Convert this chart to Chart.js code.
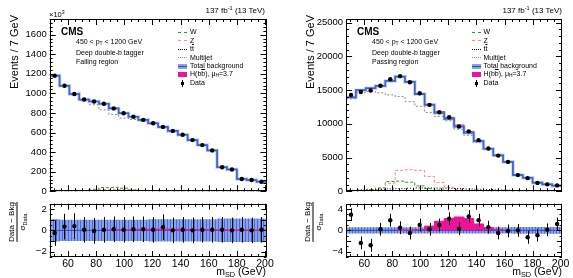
<!DOCTYPE html>
<html>
<head>
<meta charset="utf-8">
<script src="https://cdn.jsdelivr.net/npm/chart.js@4"></script>
<style>
body { margin: 0; width: 573px; height: 278px; overflow: hidden; position: relative; background: #fff; font-family: "Liberation Sans", Arial, sans-serif; color: #000; }
canvas { position: absolute; }
.t { position: absolute; white-space: nowrap; line-height: 1; }
.sup { font-size: 70%; position: relative; top: -0.45em; }
.sub { font-size: 70%; position: relative; top: 0.3em; }
.ol { text-decoration: overline; }
.cms { font-weight: bold; font-size: 10px; }
.info { font-size: 7px; }
.leg { position: absolute; font-size: 7px; line-height: 8.5px; }
.row { height: 8.5px; display: flex; align-items: center; white-space: nowrap; }
.sym { display: inline-block; width: 9px; margin-right: 3px; flex: none; }
.ytitle { position: absolute; width: 100px; text-align: right; font-size: 11px; line-height: 1; white-space: nowrap; transform-origin: 0 0; transform: rotate(-90deg); }
.rtitle { position: absolute; font-size: 8px; line-height: 1; display: flex; flex-direction: column; align-items: center; transform: translate(-50%, -50%) rotate(-90deg); white-space: nowrap; }
.rtitle .bar { width: 100%; border-top: 1px solid #000; margin: 1px 0; }
</style>
</head>
<body>
<canvas id="failMain" width="287" height="200" style="left:0;top:0"></canvas>
<canvas id="failRatio" width="287" height="83" style="left:0;top:195px"></canvas>
<canvas id="passMain" width="286" height="200" style="left:287px;top:0"></canvas>
<canvas id="passRatio" width="286" height="83" style="left:287px;top:195px"></canvas>

<!-- failing region texts -->
<div class="t" style="left:49px;top:10.5px;font-size:7.5px">×10<span class="sup">3</span></div>
<div class="t" style="right:308px;top:7px;font-size:8px">137 fb<span class="sup">-1</span> (13 TeV)</div>
<div class="t cms" style="left:61px;top:26.5px">CMS</div>
<div class="t info" style="left:76px;top:38px">450 &lt; p<span class="sub">T</span> &lt; 1200 GeV</div>
<div class="t info" style="left:76px;top:48.5px">Deep double-b tagger</div>
<div class="t info" style="left:76px;top:58px">Failing region</div>
<div class="ytitle" style="left:9.3px;top:115px">Events / 7 GeV</div>
<div class="rtitle" style="left:17px;top:222px"><span>Data − Bkg</span><span class="bar"></span><span>σ<span class="sub">Data</span></span></div>
<div class="t" style="right:307px;top:266px;font-size:10.5px">m<span class="sub">SD</span> (GeV)</div>

<!-- passing region texts -->
<div class="t" style="right:11px;top:7px;font-size:8px">137 fb<span class="sup">-1</span> (13 TeV)</div>
<div class="t cms" style="left:357px;top:26.5px">CMS</div>
<div class="t info" style="left:372px;top:38px">450 &lt; p<span class="sub">T</span> &lt; 1200 GeV</div>
<div class="t info" style="left:372px;top:48.5px">Deep double-b tagger</div>
<div class="t info" style="left:372px;top:58px">Passing region</div>
<div class="ytitle" style="left:305.3px;top:115px">Events / 7 GeV</div>
<div class="rtitle" style="left:313px;top:222px"><span>Data − Bkg</span><span class="bar"></span><span>σ<span class="sub">Data</span></span></div>
<div class="t" style="right:11px;top:266px;font-size:10.5px">m<span class="sub">SD</span> (GeV)</div>

<div id="legFail" class="leg" style="left:178px;top:28px"></div>
<div id="legPass" class="leg" style="left:471.5px;top:28px"></div>

<script>
// binning (GeV)
const binEdges = [47, 54, 61, 68, 75, 82, 89, 96, 103, 110, 117, 124, 131, 138, 145, 152, 159, 166, 173, 180, 187, 194, 201];
const binCenters = [50.5, 57.5, 64.5, 71.5, 78.5, 85.5, 92.5, 99.5, 106.5, 113.5, 120.5, 127.5, 134.5, 141.5, 148.5, 155.5, 162.5, 169.5, 176.5, 183.5, 190.5, 197.5];
const xTicks = [60, 80, 100, 120, 140, 160, 180, 200];

// failing region, events x10^3
const failTicks = [0, 200, 400, 600, 800, 1000, 1200, 1400, 1600];
const failTotal = [1182, 1078, 994, 937, 918, 894, 847, 798, 762, 730, 695, 658, 617, 577, 523, 472, 418, 246, 223, 125, 115, 98];
const failMultijet = [1179, 1073, 987, 924, 884, 832, 785, 748, 733, 715, 687, 653, 612, 572, 519, 468, 414, 243, 220, 122, 113, 96];
const failW = [1, 2, 3, 6, 20, 38, 40, 32, 14, 6, 3, 2, 1, 1, 0.5, 0.5, 0.5, 0.3, 0.3, 0.2, 0.2, 0.1];
const failZ = [0.5, 1, 2, 4, 10, 18, 20, 18, 12, 6, 3, 2, 1, 1, 0.5, 0.5, 0.3, 0.2, 0.2, 0.1, 0.1, 0.1];
const failTT = [2, 2, 3, 3, 4, 4, 5, 5, 5, 5, 5, 4, 4, 4, 3, 3, 3, 2, 2, 2, 1, 1];
const failHiggs = [0, 0, 0, 0, 0, 0, 0, 0.1, 0.2, 0.3, 0.4, 0.4, 0.3, 0.2, 0.1, 0.1, 0, 0, 0, 0, 0, 0];
const failData = [1181, 1078, 994, 937, 918, 894, 847, 798, 762, 730, 695, 658, 617, 577, 523, 472, 418, 246, 223, 125, 115, 98];
const failRatioTicks = [-2, -1, 0, 1, 2];
const failPull = [-0.25, 0.35, 0.4, 0.05, -0.05, 0.05, 0.1, 0.05, 0.1, 0.1, 0.05, 0.3, 0.0, 0.05, 0.0, 0.05, 0.05, 0.05, 0.0, 0.05, 0.0, 0.05];
const failPullErr = [1.2, 1.2, 1.2, 1.2, 1.2, 1.2, 1.2, 1.2, 1.2, 1.2, 1.2, 1.2, 1.2, 1.2, 1.2, 1.2, 1.2, 1.2, 1.2, 1.2, 1.2, 1.2];
const failBand = [1.05, 1.0, 1.0, 1.0, 1.0, 1.0, 1.0, 1.0, 1.0, 1.0, 1.05, 1.05, 1.05, 1.05, 1.05, 1.05, 1.05, 1.1, 1.1, 1.1, 1.1, 1.1];
const failSigPull = [0, 0, 0, 0, 0, 0, 0, 0.03, 0.05, 0.07, 0.08, 0.08, 0.07, 0.06, 0.05, 0.04, 0.03, 0.03, 0.02, 0.02, 0.02, 0.02];

// passing region, events
const passTicks = [0, 5000, 10000, 15000, 20000, 25000];
const passTotal = [13930, 15000, 15290, 15630, 16370, 17010, 16230, 14410, 12800, 11620, 10740, 9580, 8650, 7420, 6300, 5330, 4370, 2400, 2010, 1280, 1030, 840];
const passMultijet = [13700, 14600, 14800, 14600, 14300, 14050, 13300, 12600, 11700, 11100, 10450, 9200, 8300, 7200, 6200, 5250, 4300, 2330, 1950, 1230, 990, 810];
const passW = [30, 60, 150, 500, 1450, 1500, 1350, 800, 400, 200, 100, 50, 30, 20, 10, 5, 5, 3, 2, 2, 1, 1];
const passZ = [0, 20, 60, 250, 1200, 3100, 3200, 3100, 2200, 1300, 600, 300, 150, 80, 50, 30, 20, 10, 5, 5, 3, 2];
const passTT = [150, 200, 250, 300, 350, 400, 450, 500, 500, 480, 450, 400, 350, 300, 250, 200, 170, 120, 100, 80, 60, 50];
const passHiggs = [0, 0, 0, 0, 0, 0, 10, 40, 90, 185, 230, 245, 205, 105, 40, 10, 0, 0, 0, 0, 0, 0];
const passData = [14280, 14715, 14950, 15650, 16610, 17075, 16165, 14530, 12820, 11730, 10970, 9610, 8890, 7585, 6350, 5295, 4363, 2400, 1952, 1248, 1033, 875];
const passRatioTicks = [-4, -2, 0, 2, 4];
const passPull = [2.95, -2.35, -2.8, 0.2, 1.9, 0.5, -0.5, 1.0, 0.2, 1.0, 2.2, 0.3, 2.6, 1.9, 0.6, -0.5, -0.1, 0.0, -1.3, -0.9, 0.1, 1.2];
const passPullErr = [1.2, 1.2, 1.2, 1.2, 1.2, 1.2, 1.2, 1.2, 1.2, 1.2, 1.2, 1.2, 1.2, 1.2, 1.2, 1.2, 1.2, 1.2, 1.2, 1.2, 1.2, 1.2];
const passBand = [0.6, 0.6, 0.6, 0.6, 0.6, 0.6, 0.6, 0.6, 0.6, 0.6, 0.6, 0.6, 0.6, 0.6, 0.6, 0.6, 0.6, 0.65, 0.65, 0.65, 0.65, 0.65];
const passSigPull = [0, 0, 0, 0, 0, 0, 0.05, 0.1, 0.8, 1.7, 2.2, 2.5, 2.2, 1.2, 0.5, 0.1, 0, 0, 0, 0, 0, 0];

const MAGENTA = '#ee1199';
const BLUE = '#3b66c6';

Chart.defaults.font.family = '"Liberation Sans", Arial, sans-serif';
Chart.defaults.color = '#000';

// one point per left bin edge plus the closing edge; 'before' keeps each value over its own bin
function steps(vals) {
    const pts = vals.map((v, i) => ({x: binEdges[i], y: v}));
    pts.push({x: binEdges[vals.length], y: vals[vals.length - 1]});
    return pts;
}
function points(vals) {
    return vals.map((v, i) => ({x: binCenters[i], y: v}));
}
function stepLine(vals, color, width, dash, order) {
    return {data: steps(vals), stepped: 'before', borderColor: color, borderWidth: width,
        borderDash: dash || [], pointRadius: 0, fill: false, order: order};
}
function stripes() {
    const c = document.createElement('canvas');
    c.width = 3; c.height = 4;
    const g = c.getContext('2d');
    g.fillStyle = '#86a4ec';
    g.fillRect(0, 0, 3, 4);
    g.fillStyle = '#4a6cd4';
    g.fillRect(2, 0, 1, 4);
    return g.createPattern(c, 'repeat');
}

// ROOT style frame with inward ticks on all four sides
const rootFrame = {
    id: 'rootFrame',
    afterDatasetsDraw(chart, args, o) {
        const {ctx, chartArea: a} = chart;
        const x = chart.scales.x, y = chart.scales.y;
        ctx.save();
        ctx.strokeStyle = '#000';
        ctx.lineWidth = 1;
        ctx.strokeRect(Math.round(a.left) + 0.5, Math.round(a.top) + 0.5,
            Math.round(a.right - a.left) - 1, Math.round(a.bottom - a.top) - 1);
        const tick = (scale, major, minor, len, horiz) => {
            const first = Math.ceil(scale.min / minor - 1e-6);
            const last = Math.floor(scale.max / minor + 1e-6);
            ctx.beginPath();
            for (let k = first; k <= last; k++) {
                const v = k * minor;
                const isMajor = Math.abs(v / major - Math.round(v / major)) < 1e-6;
                const L = isMajor ? len : len / 2;
                const p = Math.round(scale.getPixelForValue(v)) + 0.5;
                if (horiz) {
                    ctx.moveTo(p, a.bottom); ctx.lineTo(p, a.bottom - L);
                    ctx.moveTo(p, a.top); ctx.lineTo(p, a.top + L);
                } else {
                    ctx.moveTo(a.left, p); ctx.lineTo(a.left + L, p);
                    ctx.moveTo(a.right, p); ctx.lineTo(a.right - L, p);
                }
            }
            ctx.stroke();
        };
        tick(x, 20, 5, o.xLen, true);
        tick(y, o.yMajor, o.yMinor, o.yLen, false);
        ctx.restore();
    }
};

// vertical error bars on datasets that carry an errors array
const errBars = {
    id: 'errBars',
    afterDatasetsDraw(chart) {
        const {ctx} = chart;
        const y = chart.scales.y;
        chart.data.datasets.forEach((ds, i) => {
            if (!ds.errors) return;
            const meta = chart.getDatasetMeta(i);
            ctx.save();
            ctx.strokeStyle = '#000';
            ctx.lineWidth = 1;
            ctx.beginPath();
            meta.data.forEach((pt, j) => {
                const v = ds.data[j].y, e = ds.errors[j];
                const px = Math.round(pt.x) + 0.5;
                ctx.moveTo(px, y.getPixelForValue(v + e));
                ctx.lineTo(px, y.getPixelForValue(v - e));
            });
            ctx.stroke();
            ctx.restore();
        });
    }
};

function drawMain(id, c) {
    return new Chart(document.getElementById(id), {
        type: 'line',
        data: {
            datasets: [
                {type: 'scatter', data: points(c.data), pointRadius: 2.2, pointBackgroundColor: '#000',
                    pointBorderWidth: 0, showLine: false, order: 0},
                stepLine(c.total, BLUE, 1.6, null, 1),
                stepLine(c.total, 'rgba(130,160,235,0.45)', 3.5, null, 2),
                stepLine(c.total.map((v, i) => v + c.higgs[i]), MAGENTA, 1.2, null, 3),
                stepLine(c.multijet, '#8c8c8c', 1, [2, 2], 4),
                stepLine(c.tt, '#000', 1, [1, 2], 4),
                stepLine(c.z, '#f08f8f', 1, [3, 2], 4),
                stepLine(c.w, '#22a022', 1, [3, 2], 4)
            ]
        },
        options: {
            responsive: false, animation: false, devicePixelRatio: 1,
            layout: {padding: {top: 19, right: c.padRight, bottom: 7, left: 0}},
            plugins: {legend: {display: false}, tooltip: {enabled: false},
                rootFrame: {xLen: 6, yLen: 6, yMajor: c.ticks[1], yMinor: c.ticks[1] / 5}},
            scales: {
                x: {type: 'linear', min: 47, max: 201, display: false},
                y: {min: 0, max: c.ymax, grid: {display: false, drawTicks: false}, border: {display: false},
                    ticks: {padding: 3, font: {size: 9.5}, color: '#000', callback: v => String(v)},
                    afterBuildTicks: s => { s.ticks = c.ticks.map(v => ({value: v})); },
                    afterFit: s => { s.width = c.axisW; }}
            }
        },
        plugins: [rootFrame, errBars]
    });
}

function drawRatio(id, c) {
    return new Chart(document.getElementById(id), {
        type: 'line',
        data: {
            datasets: [
                {type: 'scatter', data: points(c.pull), errors: c.err, pointRadius: 2.2, pointBackgroundColor: '#000',
                    pointBorderWidth: 0, showLine: false, order: 0},
                {data: steps(c.sig), stepped: 'before', fill: 'origin', backgroundColor: MAGENTA,
                    borderColor: MAGENTA, borderWidth: c.sigLine, pointRadius: 0, order: 1,
                    segment: {borderColor: s => (s.p0.parsed.y === 0 && s.p1.parsed.y === 0) ? 'rgba(0,0,0,0)' : MAGENTA}},
                {data: binEdges.map(e => ({x: e, y: 0})), borderColor: '#3a3ab8', borderWidth: 1, pointRadius: 0, order: 2},
                {data: steps(c.band), stepped: 'before', fill: '+1', backgroundColor: stripes(),
                    borderWidth: 0, pointRadius: 0, order: 3},
                {data: steps(c.band.map(v => -v)), stepped: 'before', fill: false,
                    borderWidth: 0, pointRadius: 0, order: 3}
            ]
        },
        options: {
            responsive: false, animation: false, devicePixelRatio: 1,
            layout: {padding: {top: 7, right: c.padRight, bottom: 0, left: 0}},
            plugins: {legend: {display: false}, tooltip: {enabled: false},
                rootFrame: {xLen: 6, yLen: 5, yMajor: c.ticks[1] - c.ticks[0], yMinor: (c.ticks[1] - c.ticks[0]) / 2}},
            scales: {
                x: {type: 'linear', min: 47, max: 201, grid: {display: false, drawTicks: false}, border: {display: false},
                    ticks: {padding: 1, font: {size: 10.5}, color: '#000', maxRotation: 0, autoSkip: false},
                    afterBuildTicks: s => { s.ticks = xTicks.map(v => ({value: v})); },
                    afterFit: s => { s.height = 21; }},
                y: {min: c.ymin, max: c.ymax, grid: {display: false, drawTicks: false}, border: {display: false},
                    ticks: {padding: 3, font: {size: 9.5}, color: '#000', callback: v => String(v).replace('-', '\u2212')},
                    afterBuildTicks: s => { s.ticks = c.ticks.map(v => ({value: v})); },
                    afterFit: s => { s.width = c.axisW; }}
            }
        },
        plugins: [rootFrame, errBars]
    });
}

drawMain('failMain', {data: failData, total: failTotal, higgs: failHiggs, multijet: failMultijet,
    tt: failTT, z: failZ, w: failW, ymax: 1760, ticks: failTicks, axisW: 49.7, padRight: 20.6});
drawRatio('failRatio', {pull: failPull, err: failPullErr, sig: failSigPull, band: failBand, sigLine: 1.5,
    ymin: -2.5, ymax: 2.5, ticks: failRatioTicks, axisW: 49.7, padRight: 20.6});
drawMain('passMain', {data: passData, total: passTotal, higgs: passHiggs, multijet: passMultijet,
    tt: passTT, z: passZ, w: passW, ymax: 25550, ticks: passTicks, axisW: 59.1, padRight: 11});
drawRatio('passRatio', {pull: passPull, err: passPullErr, sig: passSigPull, band: passBand, sigLine: 1,
    ymin: -5, ymax: 5, ticks: passRatioTicks, axisW: 59.1, padRight: 11});

// legends
const legendRows = [
    ['<span class="sym" style="border-top:1px dashed #22a022"></span>', 'W'],
    ['<span class="sym" style="border-top:1px dashed #f08f8f"></span>', 'Z'],
    ['<span class="sym" style="border-top:1px dotted #000"></span>', 't<span class="ol">t</span>'],
    ['<span class="sym" style="border-top:1px dotted #8c8c8c"></span>', 'Multijet'],
    ['<span class="sym" style="height:5px;background:linear-gradient(#86a4ec 0 2px,#2b4fb8 2px 3px,#86a4ec 3px)"></span>', 'Total background'],
    ['<span class="sym" style="height:5px;background:' + MAGENTA + '"></span>', 'H(b<span class="ol">b</span>), μ<span class="sub">H</span>=3.7'],
    ['<span class="sym" style="height:7px;background:radial-gradient(circle,#000 1.6px,transparent 1.9px),linear-gradient(#000,#000) center/1px 100% no-repeat"></span>', 'Data']
];
const legHtml = legendRows.map(r => '<div class="row">' + r[0] + '<span>' + r[1] + '</span></div>').join('');
document.getElementById('legFail').innerHTML = legHtml;
document.getElementById('legPass').innerHTML = legHtml;
</script>
</body>
</html>
